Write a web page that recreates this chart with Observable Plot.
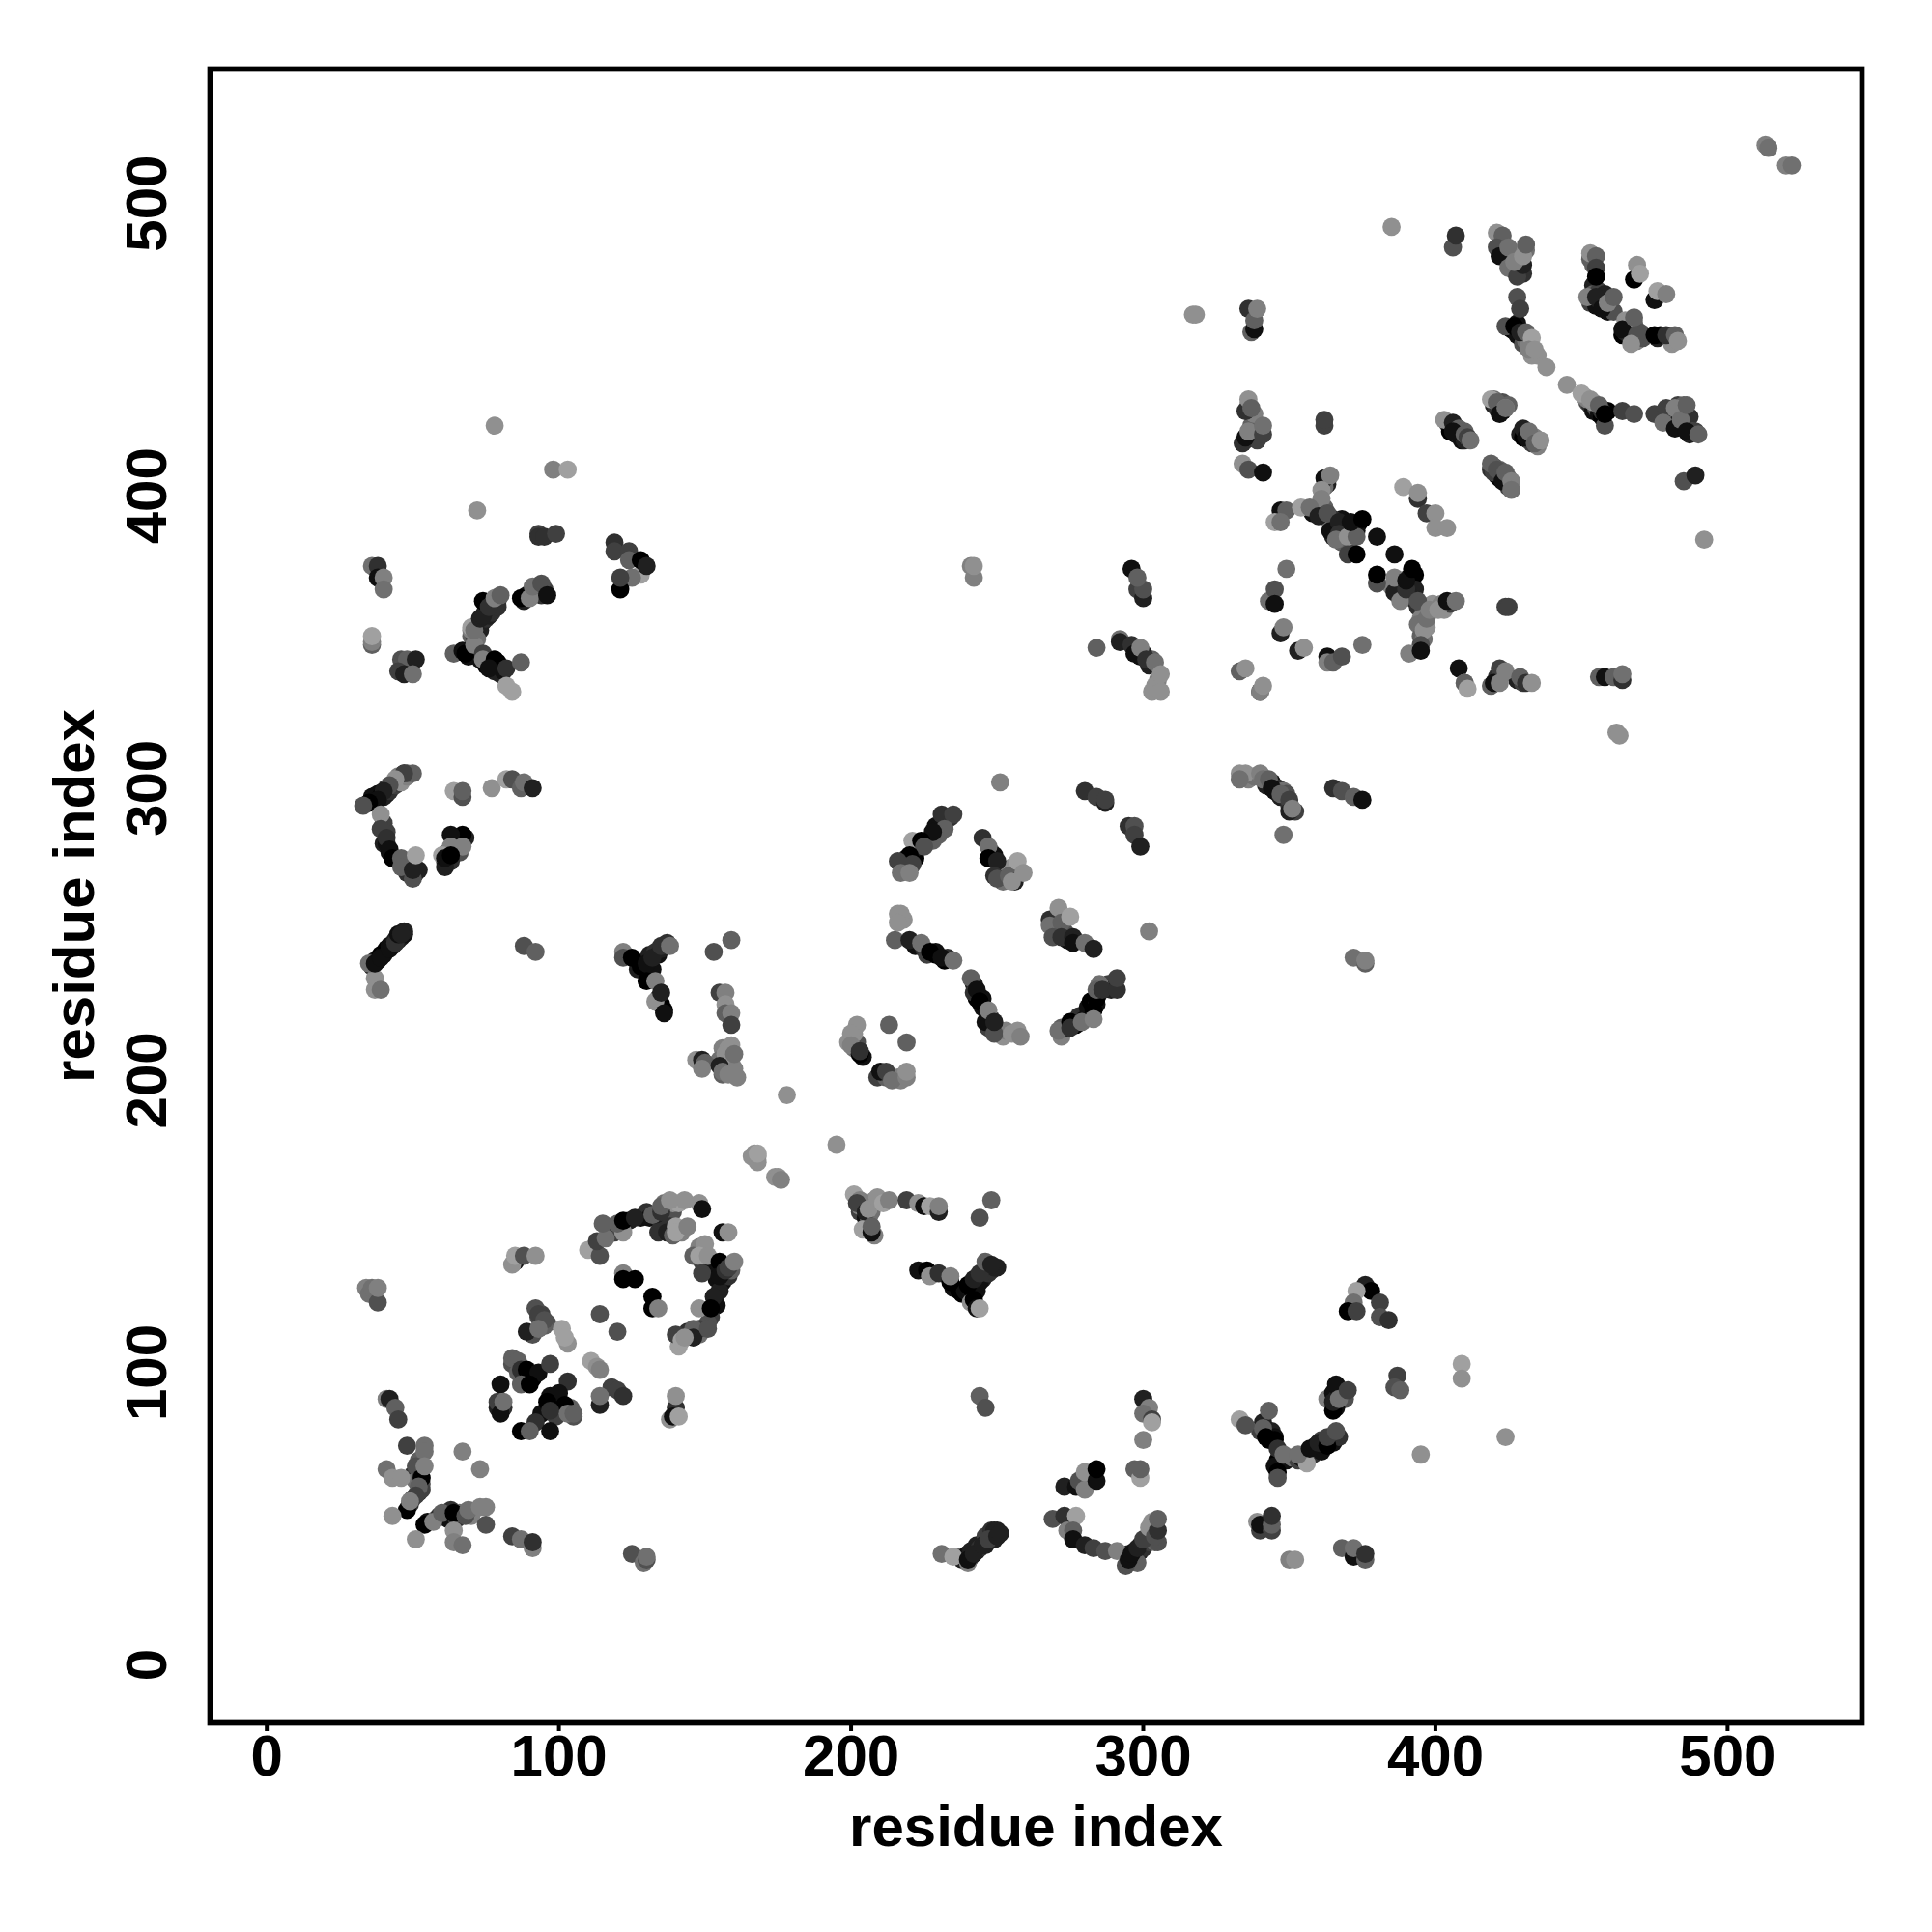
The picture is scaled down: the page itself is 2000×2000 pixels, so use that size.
<!DOCTYPE html>
<html>
<head>
<meta charset="utf-8">
<style>html,body{margin:0;padding:0;background:#fff}svg{display:block}</style>
<script src="https://cdn.jsdelivr.net/npm/d3@7"></script>
<script src="https://cdn.jsdelivr.net/npm/@observablehq/plot@0.6"></script>
</head>
<body>
<div id="chart"></div>
<script>
const tickValues = [0, 100, 200, 300, 400, 500];
const axisTitle = "residue index";
// each contact: [residue i, residue j, shade 0 (black) to 10 (lightest)]
const denseLeft = [[36,239,2],[37,241,2],[38,241,1],[39,243,0],[40,243,1],[41,245,0],[42,246,1],[43,246,2],[44,248,2],[45,248,3],[46,249,2],[47,250,1],[47,251,2],
[36,297,1],[37,295,0],[38,298,1],[39,297,0],[40,297,2],[41,300,3],[41,298,2],[42,299,3],[43,301,2],[44,301,4],[45,302,3],[45,304,8],[46,302,9],[47,305,2],[48,304,8],[48,305,5],
[40,288,4],[41,285,4],[40,281,2],[41,281,1],[42,278,1],[47,275,6],[49,275,7],[48,271,3],[51,271,2],[52,272,2],
[61,275,1],[62,278,0],[63,279,1],[64,281,0],[65,282,1],[66,283,0],[68,283,2],[65,280,8],[66,278,5],[63,275,3],
[70,352,6],[71,352,4],[72,355,3],[73,356,1],[73,354,2],[74,357,2],[75,358,3],[75,361,1],[76,359,2],[77,360,3],[77,363,2],[78,362,3],[79,364,4],[79,362,3],[70,354,8],[72,351,7],
[69,345,1],[72,346,3],[73,344,1],[75,342,0],[77,341,1],[78,340,2],[80,339,2],[81,340,1],[88,364,2],[89,366,1],[91,366,4],[92,367,6],[93,368,7],[94,366,3],[95,368,4]];
const denseLowerLeft = [[118,150,6],[119,148,4],[124,152,2],[128,153,1],[130,155,3],[131,153,1],[136,153,3],[137,156,4],[139,155,5],[136,158,7],[139,158,9],[141,158,10],[143,159,9],[142,148,8],[138,150,3],[135,150,3],
[148,143,8],[150,141,7],[149,138,4],[151,136,2],[153,136,1],[154,132,1],[156,131,1],[156,137,3],[158,133,3],[159,135,6],[155,128,2],[154,123,1],[152,119,4],[151,117,5],[148,113,7],[144,114,3],[148,115,4],[141,109,10],
[84,103,5],[86,100,6],[88,98,3],[91,98,0],[81,88,3],[79,88,2],[94,86,1],[99,85,4],[104,88,6],[92,83,3],[100,89,1],[97,92,1],[93,119,5],[94,120,4],[91,113,5],[96,117,5],[95,116,6],
[50,65,3],[52,66,1],[52,70,6],[51,63,7],[53,62,5],[50,57,6],[52,59,3],[49,55,3],[53,60,4],[55,49,1],[58,50,7],[59,51,3],[61,51,4],[62,50,1],[63,53,3],[65,50,3],[66,52,7],[70,51,8]];
const denseLowerRight = [[237,37,6],[238,36,2],[239,37,1],[240,38,1],[241,37,2],[241,39,2],[243,39,1],[243,41,2],[244,40,3],[246,41,2],[246,44,4],[248,44,2],[249,43,2],[248,46,3],[249,46,2],[250,46,2],
[295,38,2],[296,36,1],[297,39,1],[297,37,2],[298,38,1],[299,41,2],[299,39,2],[300,40,3],[301,43,3],[302,42,4],[302,44,6],[303,46,5],[304,47,8],[304,42,6],[305,42,5],[303,49,9],[298,35,6],
[235,129,1],[237,128,0],[238,127,0],[239,128,1],[241,129,0],[242,127,0],[243,128,1],[245,132,2],[244,131,1],[246,135,2],[247,134,3],[248,135,3],[249,136,2],[250,136,2],
[340,80,4],[341,83,2],[343,77,0],[344,80,2],[345,78,1],[347,72,2],[346,70,0],[345,68,1],[349,70,1],[351,71,7],[353,70,4],[355,72,2],[354,71,1],[358,72,3],[359,75,1],[361,73,1],[361,77,4],[362,75,1],[364,77,2],[365,78,3],[365,76,1],[367,78,3],
[363,91,8],[365,93,1],[366,91,2],[367,94,1],[368,93,5],[369,91,5],[366,88,1],[203,155,4],[205,153,1],[203,157,8],[206,153,6],[204,158,6],[208,159,8],[207,155,7]];
const denseUpper = [[404,425,3],[405,422,0],[406,424,5],[407,421,1],[407,423,2],[408,421,4],[409,419,1],[410,422,6],[410,419,2],[411,420,5],
[420,431,2],[420,433,7],[421,430,3],[423,429,0],[423,432,5],[425,431,6],[429,421,2],[430,420,0],[431,422,5],[432,419,2],[433,418,4],[434,420,8],[435,417,8],
[419,409,3],[420,410,5],[421,407,1],[422,406,0],[422,409,6],[423,408,5],[424,405,0],[425,406,6],[425,403,4],[420,408,4],
[452,432,5],[453,431,3],[454,429,1],[455,430,5],[456,428,1],[457,427,0],[459,429,0],[457,429,3],[454,432,9],[451,434,9],[452,433,8],
[481,428,2],[482,427,6],[483,425,2],[484,428,8],[485,427,2],[486,424,1],[487,421,2],[487,427,3],[488,422,5],[489,422,4],[483,431,4],[485,431,6],
[423,486,5],[425,481,1],[424,483,3],[426,482,5],[428,481,3],[429,478,2],[427,477,5],[430,476,3],[431,484,7],
[453,481,6],[454,479,6],[454,472,2],[453,466,4],[455,465,1],[456,467,2],[457,466,3],[454,469,6],[456,470,4],[458,469,2],[459,463,1],[461,463,5],
[464,455,0],[465,456,2],[466,458,1],[467,454,3],[466,459,5],[468,459,6],[470,456,5],[469,453,8],[471,454,5],[476,454,2],[477,455,1],[480,454,3],[481,452,9],
[426,457,0],[428,455,1],[428,459,1],[430,452,5],[431,453,7],[432,452,8],[433,448,9],[435,448,9],
[366,390,0],[368,392,1],[369,389,2],[369,387,1],[371,389,0],[371,385,4],[372,389,0],[373,390,0],[374,391,0],[373,388,1],[367,389,6],[365,392,3],[364,391,7],[361,396,3],[358,394,1],[363,404,2],[362,396,6],[362,403,7],[368,384,6],[365,386,2],
[391,372,0],[391,369,1],[392,371,0],[393,373,0],[388,369,3],[388,366,1],[385,369,8],[387,371,5],[389,365,1],[387,368,0],[393,368,2],[392,365,2],[394,362,3],[396,361,5],[395,358,8],[399,363,9],[403,361,9],[402,363,8],[405,363,4],[394,356,7],[397,355,9],[395,352,6],[396,351,7],
[335,419,3],[337,424,6],[338,421,5],[339,419,4],[338,428,8],[336,431,8],[335,429,3],[334,418,3],[419,335,6],[421,338,3],[428,337,2],[430,336,4],
[342,301,2],[344,302,1],[345,299,1],[346,300,3],[347,297,2],[348,299,7],[349,298,5],[350,294,3],[352,292,4],[336,303,8],[338,304,7],[335,305,9],
[297,348,0],[299,345,1],[302,342,2],[303,344,6],[300,346,2],[305,337,8],[304,335,9]];
const denseCenter = [[218,273,3],[219,276,2],[222,276,0],[223,280,2],[226,282,0],[228,282,6],[229,287,1],[230,284,6],[234,290,3],
[248,278,5],[249,277,1],[251,272,3],[252,268,7],[253,272,8],[255,273,9],[218,255,9],[222,246,1],[225,245,3],[226,243,4],[229,243,0],[229,244,1],[232,241,0],[233,242,3],
[270,252,6],[270,250,3],[273,251,5],[274,248,1],[242,233,2],[243,228,0],[245,228,1],[245,225,1],[248,221,4],[247,218,4],[252,215,9],[253,217,8],
[272,215,8],[274,218,1],[277,219,0],[278,222,3],[280,221,1],[281,225,1],[282,227,0],[284,226,1],[285,230,3],[288,233,4],[289,231,2],[285,233,7],[272,218,6],
[199,213,9],[201,211,7],[204,208,1],[202,213,5],[209,201,4],[212,201,6],[216,201,8],[217,200,8],[201,216,9],
[156,211,8],[158,211,9],[155,207,7],[157,206,8],[159,206,8],[156,202,6],[160,204,8],
[127,238,2],[128,239,0],[130,241,1],[131,243,2],[133,244,3],[134,243,1],[135,245,2],[132,238,1],[134,228,1],[135,226,0],[136,224,0]];
const lowerLeft = [[34,129,8],[35,127,7],[36,129,7],[38,124,5],[38,129,8],[85,138,1],[84,137,9],[85,140,10],[88,140,5],[92,140,9],
[110,142,10],[114,140,5],[113,145,4],[116,146,7],[115,151,6],[122,148,9],[120,151,6],[122,152,0],[126,153,2],[133,154,2],[132,154,6],[134,148,3],[135,155,3],[135,157,6],[138,159,9],[148,158,9],[149,156,1],[137,148,2],[139,147,6],[140,150,10],[140,148,10],[144,150,8],[156,148,1],[158,148,9],
[146,140,6],[150,144,9],[148,140,10],[151,140,9],[149,134,4],[155,138,0],[155,133,1],[157,135,3],[158,136,4],[160,138,8],[153,126,2],[148,122,9],[152,122,0],[146,115,6],[146,112,2],[151,115,5],[140,113,4],[142,111,10],[143,112,9],
[122,134,8],[122,132,0],[126,132,0],[132,126,0],[132,122,0],[134,122,8],[114,120,5],[120,114,5],
[92,122,5],[93,120,4],[95,118,5],[89,114,2],[93,115,7],[101,115,10],[103,110,9],[102,112,10],[111,104,10],[113,102,9],[114,101,8],[118,95,4],[120,94,4],[122,92,3],[114,89,2],[114,92,7],[140,88,3],[138,84,9],[139,85,1],[140,92,9],[141,85,10]];
const centerDiamond = [[84,105,6],[86,104,6],[87,101,3],[89,101,0],[93,100,1],[97,103,4],[80,96,1],[87,96,6],[90,96,0],[79,90,4],[80,86,1],[81,90,7],[103,97,3],[100,93,1],[96,90,0],[102,89,0],[97,87,3],[105,85,5],[103,86,7],[105,86,6],[87,80,0],[90,80,6],[97,80,1]];
const bottomLeft = [[41,91,8],[42,91,2],[44,88,6],[45,84,4],[48,75,4],[54,75,7],[54,73,7],[67,73,8],[73,67,8],[41,67,7],[43,64,9],[46,64,9],[51,68,5],[53,64,0],[52,61,6],[51,58,4],[48,53,0],[49,56,8],[54,68,8],
[43,51,9],[54,48,0],[57,49,8],[60,52,6],[64,52,0],[68,51,5],[69,53,7],[73,54,8],[75,54,8],[75,48,5],[51,43,9],[64,46,9],[64,42,8],[67,41,7],[84,44,4],[87,43,7],[91,40,8],[91,42,3],[125,38,5],[129,35,7],[130,36,5],[130,37,7]];
const nearDiagonal = [[166,174,9],[168,174,9],[168,172,9],[174,167,9],[175,167,9],[176,166,8],[178,195,9],[195,178,9],[167,175,9],[168,175,10]];
const lowerMiddle = [[201,161,10],[203,159,8],[202,158,4],[205,155,2],[206,156,9],[209,160,9],[211,158,10],[213,159,8],[204,149,10],[208,147,8],[207,148,1],[207,150,6],[219,159,4],[223,158,9],[225,157,1],[227,157,10],[230,155,2],[230,157,8],[248,159,6],[244,153,5],
[223,135,1],[226,135,0],[227,133,9],[230,134,3],[234,131,0],[234,133,8],[240,130,0],[241,124,9],[242,132,2],[244,134,3],[246,138,6],[248,137,2],[242,125,0],[243,122,1],[244,122,10],[244,92,6],[246,88,5],
[300,91,2],[302,88,8],[300,86,7],[303,84,4],[303,83,10],[300,77,8],[297,67,6],[299,64,10],[299,67,6],[273,61,2],[277,61,1],[278,63,5],[280,60,8],[280,66,9],[284,63,1],[284,67,0],
[269,50,5],[273,51,3],[277,51,10],[274,46,8],[276,46,6],[276,43,1],[280,41,2],[283,40,4],[287,39,5],[291,39,8],[294,34,5],[295,36,1],[296,38,1],[298,40,2],[300,43,4],[302,47,9],[304,44,5],[305,46,3],[305,50,6],
[231,38,7],[235,37,10],[240,35,8],[240,36,1],[242,38,2],[245,41,2],[247,43,4],[250,44,2],[251,45,2]];
const lowerRight = [[376,130,2],[378,128,0],[373,128,10],[372,124,7],[370,121,0],[373,121,4],[381,124,4],[381,119,5],[384,118,3],[387,99,4],[386,95,5],[388,94,6],[409,103,10],[409,98,9],[395,72,9],[424,78,9],
[366,96,1],[365,87,0],[365,90,2],[367,91,7],[370,94,4],[343,87,6],[333,84,10],[335,82,5],[341,81,6],[342,78,0],[345,77,0],[346,66,0],[346,64,5],[346,74,3],[348,72,7],[356,69,10],[353,72,7],[357,74,1],[360,76,2],[363,75,0],[363,78,4],[366,80,5],
[339,49,9],[340,46,4],[340,48,1],[344,46,4],[344,48,6],[344,51,3],[350,36,8],[352,36,9],[368,40,6],[372,37,1],[372,40,7],[376,36,6],[376,38,3],[372,242,7],[376,240,6],[376,241,8]];
const leftSide = [[50,305,6],[47,305,4],[44,303,9],[42,301,5],[40,299,2],[38,296,1],[35,295,0],[33,294,5],[39,291,9],[39,286,4],[41,283,3],[42,279,1],[43,276,0],[46,276,6],[46,273,6],[50,269,5],[50,272,2],[51,277,10],
[64,299,10],[67,297,5],[67,299,6],[77,300,9],[82,303,10],[84,303,5],[87,300,6],[88,302,7],[91,300,2],[67,284,0],[63,284,1],[63,280,8],[67,280,8],[60,277,10],[61,273,2],[61,276,1],[63,277,0],
[37,235,9],[37,231,9],[39,231,7],[35,240,7],[37,240,1],[39,242,1],[42,245,1],[44,247,3],[45,250,1],[46,250,2],[88,246,5],[92,244,6]];
const leftMiddle = [[122,244,8],[122,242,5],[125,242,0],[130,240,1],[132,242,2],[135,246,3],[137,247,3],[138,246,7],[130,234,0],[133,234,8],[133,227,9],[135,230,2],[136,223,1],[153,244,5],[159,248,6],
[155,230,4],[157,230,8],[157,226,9],[157,223,6],[159,223,8],[159,219,4],[159,212,9],[157,209,9],[160,209,7],[147,207,9],[149,207,2],[150,206,6],[149,204,8],[155,205,2],[156,203,7],[158,202,8],[161,201,8]];
const centerBlock = [[251,302,8],[280,299,3],[284,297,4],[287,295,2],[287,296,4],[295,287,3],[297,287,5],[297,284,4],[299,280,2],
[231,291,3],[235,291,4],[232,286,6],[228,285,1],[221,282,10],[224,282,0],[225,280,5],[220,277,0],[221,274,4],[216,275,4],[217,271,7],[220,271,8],
[245,283,3],[247,280,7],[247,276,0],[250,275,2],[249,270,3],[250,269,5],[254,270,6],[256,268,2],[255,268,9],[257,275,10],[259,271,9],
[216,257,9],[217,257,9],[216,254,9],[215,248,6],[220,248,2],[224,247,7],[227,244,0],[231,242,1],[235,241,7],
[268,255,3],[268,253,7],[271,259,9],[272,254,6],[275,256,10],[269,249,5],[272,249,3],[276,249,2],[276,247,1],[280,247,7],[283,245,2],[302,251,8],
[241,235,6],[242,230,3],[243,231,1],[244,227,0],[246,220,1],[247,224,8],[249,216,5],[249,220,2],[255,216,9],[257,217,9],[258,215,8],
[271,217,7],[275,220,0],[275,218,3],[279,220,7],[283,224,0],[284,228,0],[283,221,8],[284,231,6],[286,231,3],[291,231,3],[291,235,4],
[202,219,9],[213,219,6],[200,216,9],[200,212,8],[203,209,0],[203,210,3],[219,213,6],[210,203,1],[212,203,4],[214,200,7],[219,201,8],[219,203,9]];
const upperRightArms = [[333,305,9],[333,303,7],[340,305,8],[341,303,7],[343,303,6],[344,300,1],[347,298,6],[350,296,4],[350,292,2],[351,293,8],[348,284,7],[365,300,3],[368,299,5],[372,297,6],[375,296,1],
[296,375,1],[298,368,4],[300,365,2],[300,368,5],[298,372,6],[284,348,6],[292,351,7],[292,350,2],[296,349,3],[297,346,1],[299,348,8],[301,344,3],[304,343,7],[303,333,9],[306,333,9],[306,339,9],
[242,372,8],[241,376,8],[242,376,9],[318,462,9],[317,462,9]];
const upperStems = [[336,433,9],[337,430,6],[335,420,1],[336,422,8],[341,421,4],[341,424,7],[362,424,4],[362,426,4],[334,411,9],[336,409,5],[341,408,1],
[336,464,3],[337,456,6],[338,457,1],[338,460,6],[339,464,8],
[362,406,1],[364,407,8],[361,402,9],[361,399,8],[347,395,1],[349,395,6],[345,391,10],[347,391,7],[354,396,10],[357,396,7],[360,393,2],[363,394,5],
[364,388,1],[367,391,2],[367,387,3],[366,385,7],[370,386,9],[373,386,6],[371,391,1],[375,392,0],[370,380,4],[373,380,0],[380,386,1],[386,380,1],[380,370,5],[380,373,0],
[386,367,2],[386,372,8],[388,364,8],[390,368,3],[390,371,1],[392,375,0],[394,364,5],[396,354,9],[395,349,5],[391,346,8],[395,347,1],[397,358,7],[398,361,8],[401,361,9],[404,364,1],[407,364,7],
[389,403,10],[394,399,3],[394,401,9],[397,394,4],[400,394,9],[400,389,9],[404,389,9],[424,362,4],[425,362,4],
[349,375,7],[343,364,7],[345,368,5],[345,363,1],[347,353,2],[348,355,8],[353,347,2],[355,348,9],[363,345,1],[363,343,8],[365,343,6],[368,345,5],[375,349,7],
[333,340,6],[335,341,9],[340,333,3],[340,333,8],[341,335,9],[408,341,1],[410,336,8],[410,336,6],[411,334,10],[422,341,4],[424,340,8],[420,336,1],[422,336,8],[429,338,6],[431,336,3],[433,336,9],
[456,338,6],[458,338,1],[461,338,6],[464,337,3],[464,339,7],[462,319,9],[463,318,9]];
const upperBands = [[403,426,9],[406,425,2],[408,423,6],[406,422,1],[410,421,6],[411,420,4],[412,419,7],[419,433,10],[421,432,6],[424,430,9],[422,428,1],[424,430,7],[430,423,2],[431,420,1],[432,422,7],[434,418,6],[436,419,9],[419,411,6],[421,409,5],[423,405,1],[424,408,6],[426,405,8],[426,402,7]];
const topRight = [[385,492,9],[406,485,5],[407,489,3],[421,490,9],[423,489,6],[421,485,5],[422,482,1],[425,485,7],[425,478,7],[428,475,4],[430,479,2],[427,480,8],[430,482,9],[431,486,6],
[428,468,5],[429,464,4],[424,458,5],[427,458,0],[429,456,2],[431,456,6],[433,454,10],[432,450,8],[434,450,9],[438,444,9],[445,438,9],[450,435,10],[453,433,9],[456,431,6],[458,424,5],[458,428,0],[464,429,4],[468,428,5],[475,428,4],[479,430,4],[478,425,7],[482,430,8],[482,423,1],[484,426,7],[486,422,1],[486,431,6],[490,421,6],[485,405,5],[489,407,2],[492,385,9],
[453,483,9],[455,482,6],[455,478,4],[455,475,0],[452,468,8],[455,468,2],[457,464,1],[459,466,8],[461,468,6],[469,479,9],[468,474,0],[470,476,10],[475,467,1],[476,470,10],[479,469,8],
[465,460,9],[464,457,1],[469,455,5],[468,461,6],[467,452,9],[475,455,0],[479,455,3],[482,455,6],[483,453,9],[513,520,8],[514,519,7],[520,513,8],[522,513,7]];
const upperLeft = [[78,424,9],[98,409,8],[103,409,10],[72,395,9],[93,387,4],[93,386,3],[95,386,3],[99,387,4],[119,384,3],[119,381,4],[124,381,4],[124,378,6],[128,373,10],[125,372,7],[121,368,0],[121,372,4],[128,378,0],[130,376,2],
[36,376,7],[38,376,3],[38,372,1],[40,372,8],[40,368,7],[36,349,6],[36,350,8],[36,352,10],[46,344,5],[48,344,6],[51,344,2],[45,340,4],[47,339,2],[50,339,7],
[64,346,6],[67,347,1],[68,346,0],[71,349,8],[74,346,4],[74,344,8],[78,344,0],[79,343,0],[76,341,1],[82,341,3],[87,343,6],[82,335,10],[84,333,10],
[70,355,10],[71,354,7],[73,358,2],[74,359,2],[74,364,0],[76,362,3],[78,365,8],[80,366,6],[87,365,0],[90,365,8],[91,369,7],[94,370,5],[96,366,1]];
const contacts = [denseLeft, denseLowerLeft, denseLowerRight, denseUpper, denseCenter, lowerLeft, centerDiamond, bottomLeft, nearDiagonal, lowerMiddle, lowerRight, leftSide, leftMiddle, centerBlock, upperRightArms, upperStems, upperBands, topRight, upperLeft]
  .flat().map(([i, j, shade]) => ({i, j, shade}));

const plot = Plot.plot({
  width: 2000, height: 2000,
  marginLeft: 217, marginRight: 73, marginTop: 71, marginBottom: 217,
  x: {domain: [-19.4, 546]},
  y: {domain: [-19.8, 546]},
  color: {type: "linear", domain: [0, 10], range: ["#000000", "#a0a0a0"]},
  style: {fontFamily: "'Liberation Sans', Arial, sans-serif", background: "#fff", color: "#000"},
  marks: [
    Plot.dot(contacts, {x: "i", y: "j", fill: "shade", r: 9.4, stroke: null}),
    Plot.frame({stroke: "#000", strokeWidth: 5.7}),
    Plot.axisX({ticks: tickValues, tickSize: 9, tickPadding: 3, strokeWidth: 4, fontSize: 60, fontWeight: "bold", tickFormat: d => String(d),
      label: axisTitle, labelAnchor: "center", labelArrow: "none", labelOffset: 127}),
    Plot.axisY({ticks: tickValues, tickSize: 9, tickPadding: 37, strokeWidth: 4, fontSize: 60, fontWeight: "bold", tickFormat: d => String(d), rotate: -90, textAnchor: "middle", lineAnchor: "bottom",
      label: axisTitle, labelAnchor: "center", labelArrow: "none", labelOffset: 163})
  ]
});
document.getElementById("chart").appendChild(plot);
</script>
</body>
</html>
